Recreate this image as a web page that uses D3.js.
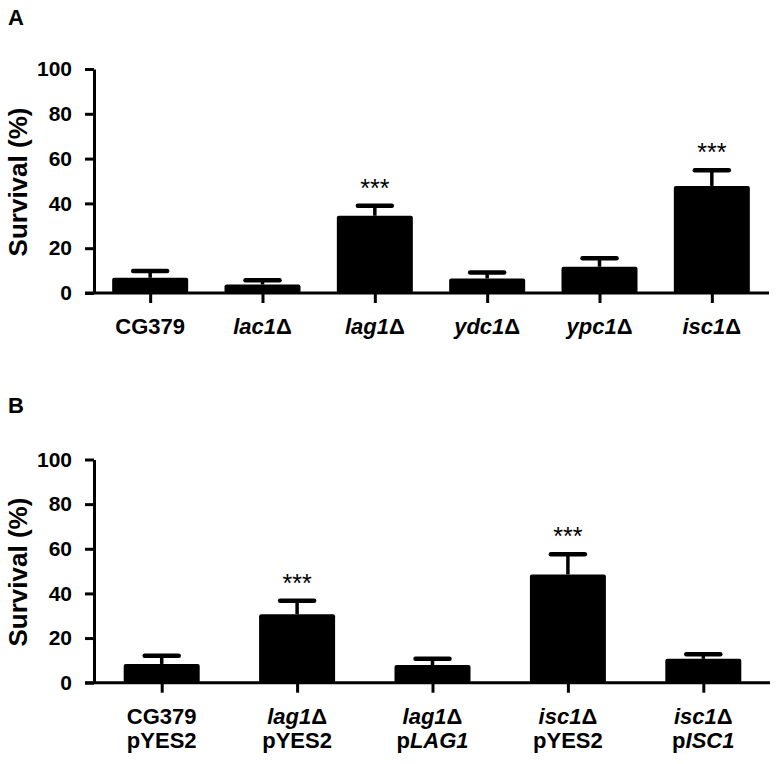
<!DOCTYPE html>
<html>
<head>
<meta charset="utf-8">
<script src="https://cdn.jsdelivr.net/npm/d3@7"></script>
<style>
  html, body { margin: 0; padding: 0; background: #fff; }
  svg { display: block; }
  text { font-family: "Liberation Sans", Arial, Helvetica, sans-serif; }
</style>
</head>
<body>
<svg id="chart" width="778" height="764"></svg>
<script>
// ---------- DATA ----------
// Labels use _..._ to mark italic segments; "\n" separates lines.
const categoriesA = ["CG379", "_lac1_Δ", "_lag1_Δ", "_ydc1_Δ", "_ypc1_Δ", "_isc1_Δ"];
const meansA      = [6.8, 3.8, 34.5, 6.5, 11.7, 47.8];
const errorsA     = [3.0, 1.9, 4.5, 2.7, 3.8, 7.0];
const signifA     = ["", "", "***", "", "", "***"];

const categoriesB = ["CG379\npYES2", "_lag1_Δ\npYES2", "_lag1_Δ\np_LAG1_", "_isc1_Δ\npYES2", "_isc1_Δ\np_ISC1_"];
const meansB      = [8.4, 30.7, 7.9, 48.5, 10.7];
const errorsB     = [3.7, 6.0, 2.8, 9.1, 2.0];
const signifB     = ["", "***", "", "***", ""];

const yTicks = [0, 20, 40, 60, 80, 100];
const yTitle = "Survival (%)";
const panelLetters = ["A", "B"];

// ---------- DRAW ----------
const svg = d3.select("#chart");

function parseSegments(line) {
  // split on underscores: odd parts italic
  return line.split("_").map((s, i) => ({ text: s, italic: i % 2 === 1 })).filter(d => d.text.length);
}

function drawPanel(cfg) {
  const { cats, means, errs, sig, top, bottom, xLeft, xRight, axisRight, letter, letterY } = cfg;
  const g = svg.append("g");

  const y = d3.scaleLinear().domain([0, 100]).range([bottom, top]);
  const x = d3.scalePoint().domain(cats).range([xLeft, xRight]).padding(0.5);
  const barW = 76;

  // panel letter
  g.append("text").attr("x", 8).attr("y", letterY)
    .attr("font-size", 22).attr("font-weight", "bold").text(letter);

  // y title
  g.append("text")
    .attr("transform", `translate(27,${(top + bottom) / 2 + 1}) rotate(-90)`)
    .attr("text-anchor", "middle")
    .attr("font-size", 26).attr("font-weight", "bold")
    .text(yTitle);

  // bars
  g.selectAll("rect.bar").data(cats).join("rect")
    .attr("class", "bar")
    .attr("x", d => x(d) - barW / 2)
    .attr("width", barW)
    .attr("y", (d, i) => y(means[i]))
    .attr("height", (d, i) => y(0) - y(means[i]))
    .attr("rx", 2)
    .attr("fill", "#000");

  // error bars
  g.selectAll("line.err").data(cats).join("line")
    .attr("class", "err")
    .attr("x1", d => x(d)).attr("x2", d => x(d))
    .attr("y1", (d, i) => y(means[i]))
    .attr("y2", (d, i) => y(means[i] + errs[i]))
    .attr("stroke", "#000").attr("stroke-width", 3.5);

  g.selectAll("line.cap").data(cats).join("line")
    .attr("class", "cap")
    .attr("x1", d => x(d) - 17).attr("x2", d => x(d) + 17)
    .attr("y1", (d, i) => y(means[i] + errs[i]))
    .attr("y2", (d, i) => y(means[i] + errs[i]))
    .attr("stroke", "#000").attr("stroke-width", 4.5)
    .attr("stroke-linecap", "round");

  // significance
  g.selectAll("text.sig").data(cats).join("text")
    .attr("class", "sig")
    .attr("x", d => x(d))
    .attr("y", (d, i) => y(means[i] + errs[i]) - 9)
    .attr("text-anchor", "middle")
    .attr("font-size", 25)
    .text((d, i) => sig[i]);

  // y axis
  const yAxis = d3.axisLeft(y).tickValues(yTicks).tickSize(9).tickSizeOuter(0).tickPadding(13);
  const ya = g.append("g").attr("transform", `translate(${xLeft},0)`).call(yAxis);
  ya.select(".domain").attr("stroke-width", 3).attr("stroke", "#000");
  ya.selectAll(".tick line").attr("stroke-width", 3).attr("stroke", "#000");
  ya.selectAll(".tick text").attr("font-size", 21).attr("font-weight", "bold")
    .attr("font-family", "'Liberation Sans', Arial, sans-serif").attr("fill", "#000");

  // x axis
  const xAxis = d3.axisBottom(x).tickSize(10).tickSizeOuter(0).tickFormat("");
  const xa = g.append("g").attr("transform", `translate(0,${bottom})`).call(xAxis);
  xa.select(".domain").remove();
  xa.selectAll(".tick line").attr("stroke-width", 3).attr("stroke", "#000");
  g.append("line")
    .attr("x1", xLeft - 9).attr("x2", axisRight)
    .attr("y1", bottom).attr("y2", bottom)
    .attr("stroke", "#000").attr("stroke-width", 3);

  // x labels
  cats.forEach(c => {
    const lines = c.split("\n");
    const t = g.append("text")
      .attr("text-anchor", "middle")
      .attr("font-size", 22).attr("font-weight", "bold");
    lines.forEach((ln, li) => {
      parseSegments(ln).forEach((seg, si) => {
        const ts = t.append("tspan").text(seg.text)
          .attr("font-style", seg.italic ? "italic" : "normal");
        if (si === 0) ts.attr("x", x(c)).attr("y", bottom + 41 + li * 24);
      });
    });
  });
}

drawPanel({
  cats: categoriesA, means: meansA, errs: errorsA, sig: signifA,
  top: 69, bottom: 293, xLeft: 94, xRight: 768, axisRight: 769,
  letter: panelLetters[0], letterY: 25
});

drawPanel({
  cats: categoriesB, means: meansB, errs: errorsB, sig: signifB,
  top: 459.5, bottom: 682.7, xLeft: 94, xRight: 771, axisRight: 770,
  letter: panelLetters[1], letterY: 413
});
</script>
</body>
</html>
